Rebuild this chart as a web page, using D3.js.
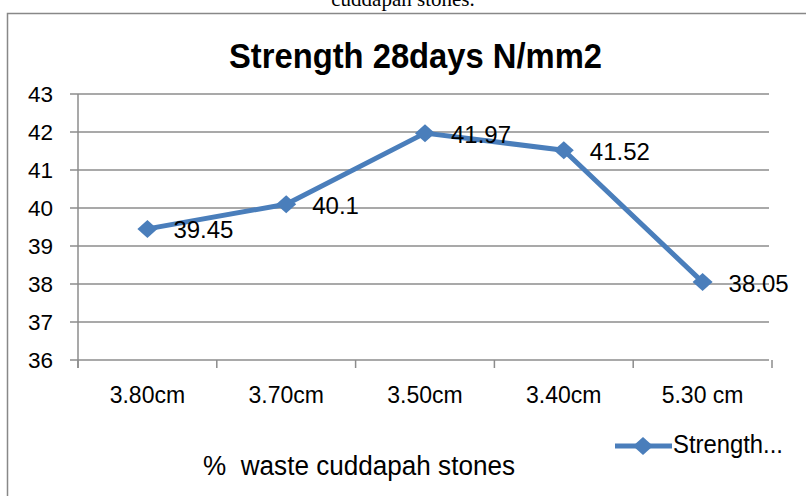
<!DOCTYPE html>
<html><head><meta charset="utf-8">
<script src="https://cdn.jsdelivr.net/npm/d3@7"></script>
<style>body{margin:0;background:#fff}svg{display:block}</style>
</head><body>
<script>
const categories = ["3.80cm","3.70cm","3.50cm","3.40cm","5.30 cm"];
const values = [39.45, 40.1, 41.97, 41.52, 38.05];
const yTicks = [36,37,38,39,40,41,42,43];
const seriesName = "Strength...";
const title = "Strength 28days N/mm2";
const xTitle = "%  waste cuddapah stones";

const W=806,H=496;
const font="'Liberation Sans',Arial,sans-serif";
const svg=d3.select("body").append("svg").attr("width",W).attr("height",H);
svg.append("rect").attr("width",W).attr("height",H).attr("fill","#fff");
svg.append("text").attr("x",403).attr("y",6).attr("text-anchor","middle")
  .attr("font-family","'Liberation Serif',serif").attr("font-size",21).text("cuddapah stones.");
svg.append("rect").attr("x",7.5).attr("y",13.5).attr("width",820).attr("height",500)
  .attr("fill","#fff").attr("stroke","#888").attr("stroke-width",1.5);

const x=d3.scaleBand().domain(categories).range([78,772]);
const y=d3.scaleLinear().domain([36,43]).range([360,94]);
const gc="#8c8c8c";
const g=svg.append("g");
g.selectAll(".grid").data(yTicks).join("line")
 .attr("x1",70).attr("x2",769).attr("y1",d=>y(d)).attr("y2",d=>y(d))
 .attr("stroke",gc).attr("stroke-width",1.5);
g.append("line").attr("x1",78).attr("x2",78).attr("y1",94).attr("y2",368).attr("stroke",gc).attr("stroke-width",1.5);
const xb=[...categories.map(c=>x(c)), x.range()[1]];
g.selectAll(".xt").data(xb).join("line").attr("x1",d=>d).attr("x2",d=>d).attr("y1",360).attr("y2",368)
 .attr("stroke",gc).attr("stroke-width",1.5);
g.selectAll(".yl").data(yTicks).join("text").attr("x",53).attr("y",d=>y(d)+8).attr("text-anchor","end")
 .attr("font-family",font).attr("font-size",22.5).attr("fill","#000").text(d=>d);
g.selectAll(".xl").data(categories).join("text").attr("x",d=>x(d)+x.bandwidth()/2).attr("y",403).attr("text-anchor","middle")
 .attr("font-family",font).attr("font-size",23).attr("fill","#000").text(d=>d);
svg.append("text").attr("x",415.5).attr("y",68).attr("text-anchor","middle").attr("font-family",font)
 .attr("font-weight","bold").attr("font-size",35).attr("textLength",373).attr("lengthAdjust","spacingAndGlyphs").text(title);
svg.append("text").attr("x",359).attr("y",475).attr("text-anchor","middle").attr("font-family",font)
 .style("white-space","pre")
 .attr("font-size",27).attr("textLength",312).attr("lengthAdjust","spacingAndGlyphs").text(xTitle);
const blue="#4a7ebb";
const pts=categories.map((c,i)=>[x(c)+x.bandwidth()/2,y(values[i])]);
svg.append("path").attr("d",d3.line()(pts)).attr("fill","none").attr("stroke",blue).attr("stroke-width",5).attr("stroke-linejoin","round");
const dia="M0,-9L10,0L0,9L-10,0Z";
svg.selectAll(".m").data(pts).join("path").attr("d",dia).attr("transform",d=>`translate(${d[0]},${d[1]})`).attr("fill",blue);
svg.selectAll(".dl").data(pts).join("text").attr("x",d=>d[0]+26).attr("y",d=>d[1]+9.5)
 .attr("font-family",font).attr("font-size",24).text((d,i)=>values[i]);
svg.append("line").attr("x1",615).attr("x2",672).attr("y1",446).attr("y2",446).attr("stroke",blue).attr("stroke-width",5);
svg.append("path").attr("d",dia).attr("transform","translate(643,446)").attr("fill",blue);
svg.append("text").attr("x",673).attr("y",453).attr("font-family",font).attr("font-size",26)
 .attr("textLength",110).attr("lengthAdjust","spacingAndGlyphs").text(seriesName);
</script>
</body></html>
